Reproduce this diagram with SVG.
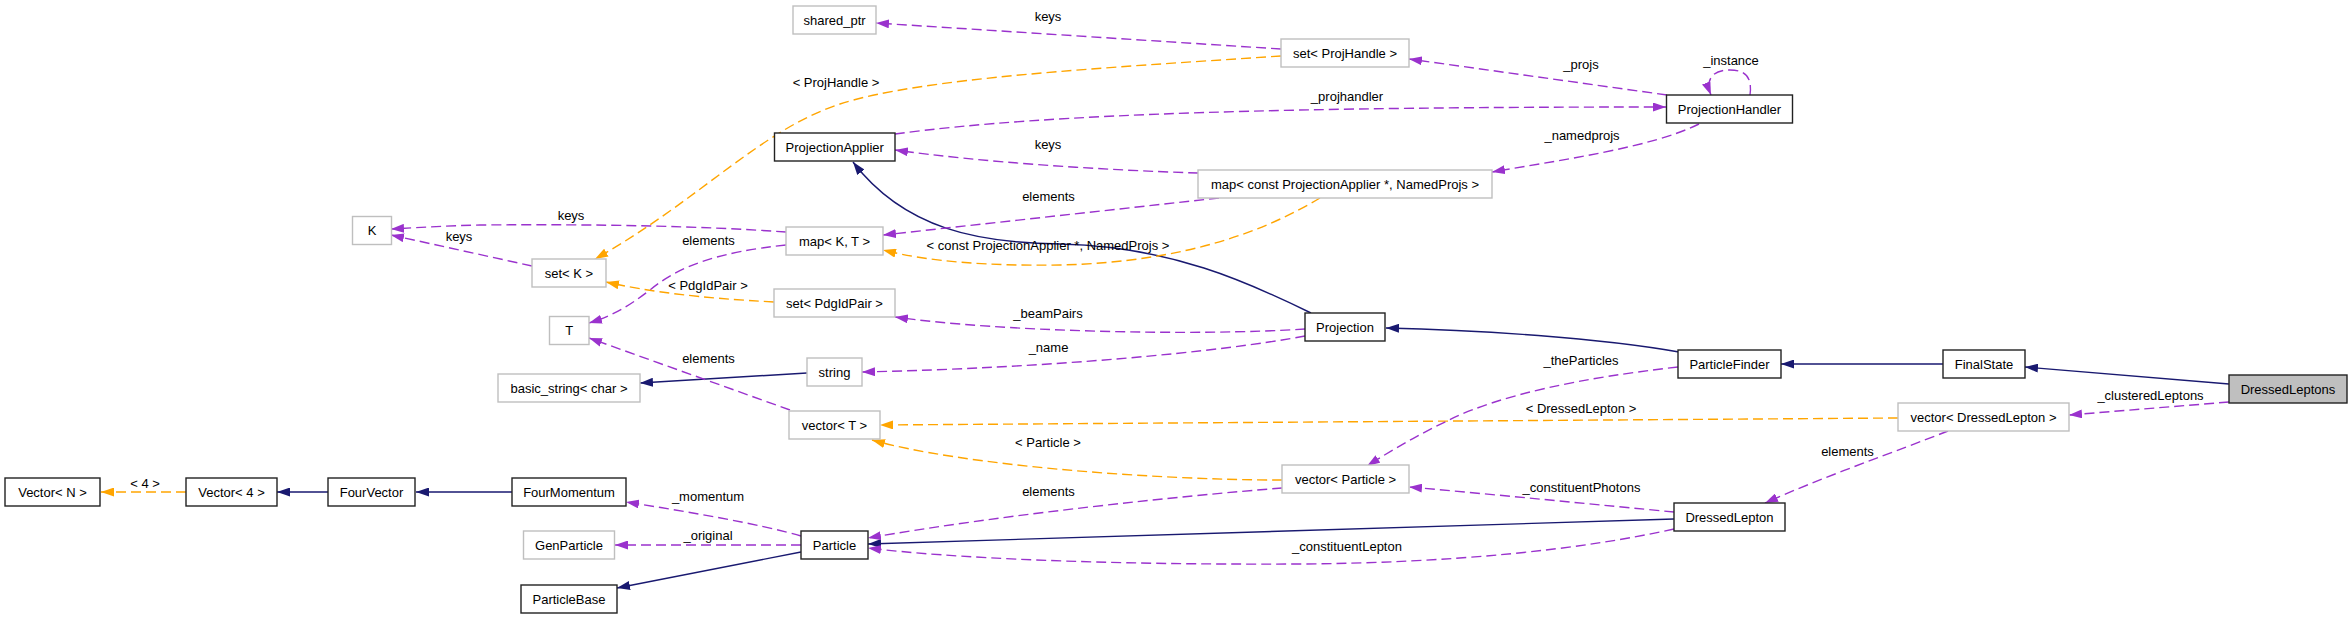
<svg xmlns="http://www.w3.org/2000/svg" width="2352" height="619" viewBox="0 0 2352 619">
<style>
text{font-family:"Liberation Sans",Arial,sans-serif;font-size:13px;fill:#000;text-anchor:middle}
.doc rect{fill:#fff;stroke:#222;stroke-width:1.4}
.ext rect{fill:#fff;stroke:#bfbfbf;stroke-width:1.4}
.cur rect{fill:#bfbfbf;stroke:#222;stroke-width:1.4}
.inh{fill:none;stroke:#191970;stroke-width:1.4;marker-end:url(#aN)}
.use{fill:none;stroke:#9a32cd;stroke-width:1.4;stroke-dasharray:10,5;marker-end:url(#aP)}
.tpl{fill:none;stroke:#ffa500;stroke-width:1.4;stroke-dasharray:10,5;marker-end:url(#aO)}
</style>
<defs>
<marker id="aN" viewBox="0 0 13 9" refX="13" refY="4.5" markerWidth="13" markerHeight="9" markerUnits="userSpaceOnUse" orient="auto"><path d="M0,0 L13,4.5 L0,9 z" fill="#191970"/></marker>
<marker id="aP" viewBox="0 0 13 9" refX="13" refY="4.5" markerWidth="13" markerHeight="9" markerUnits="userSpaceOnUse" orient="auto"><path d="M0,0 L13,4.5 L0,9 z" fill="#9a32cd"/></marker>
<marker id="aO" viewBox="0 0 13 9" refX="13" refY="4.5" markerWidth="13" markerHeight="9" markerUnits="userSpaceOnUse" orient="auto"><path d="M0,0 L13,4.5 L0,9 z" fill="#ffa500"/></marker>
</defs>
<rect width="2352" height="619" fill="#fff"/>
<g id="edges">
<path class="inh" d="M2229,384 L2025,367"/>
<path class="inh" d="M1943,364 L1781,364"/>
<path class="inh" d="M1679,352 C1600,338 1480,330 1386,328"/>
<path class="inh" d="M1311,313 C1250,283 1170,246 1060,244 C980,243 905,230 853,162"/>
<path class="inh" d="M801,552 L617,588"/>
<path class="inh" d="M1674,519 L868,544"/>
<path class="inh" d="M512,492 L416,492"/>
<path class="inh" d="M328,492 L277,492"/>
<path class="tpl" d="M186,492 L101,492"/>
<text x="145" y="487.5">&lt; 4 &gt;</text>
<path class="inh" d="M807,373 L640,383"/>
<path class="use" d="M1281,49 L876,23"/>
<text x="1048" y="21">keys</text>
<path class="tpl" d="M1281,56 C1100,68 920,78 840,104 C760,130 700,200 595,259"/>
<text x="836" y="87">&lt; ProjHandle &gt;</text>
<path class="use" d="M1667,95 L1409,59"/>
<text x="1581" y="68.5">_projs</text>
<path class="use" d="M1750,95 C1752,80 1748,70 1730,70 C1712,70 1705,80 1711,95"/>
<text x="1731" y="65">_instance</text>
<path class="use" d="M895,134 C1050,113 1300,107 1666,107"/>
<text x="1347" y="101">_projhandler</text>
<path class="use" d="M1699,124 C1650,148 1560,160 1492,172"/>
<text x="1582" y="140">_namedprojs</text>
<path class="use" d="M1198,173 C1100,170 980,162 895,150"/>
<text x="1048" y="148.5">keys</text>
<path class="use" d="M1219,198 L883,235"/>
<text x="1048.5" y="200.5">elements</text>
<path class="tpl" d="M1320,198 C1270,228 1190,262 1060,265 C990,266 930,262 883,250"/>
<text x="1048" y="249.5">&lt; const ProjectionApplier *, NamedProjs &gt;</text>
<path class="use" d="M786,232 C700,226 600,224 480,225 C440,226 410,228 391,229"/>
<text x="571" y="219.5">keys</text>
<path class="use" d="M786,245 C720,252 680,265 650,290 C630,305 615,315 589,323"/>
<text x="708.5" y="245">elements</text>
<path class="use" d="M532,266 L391,235"/>
<text x="459" y="241">keys</text>
<path class="tpl" d="M774,302 C700,298 650,292 606,282"/>
<text x="708" y="289.5">&lt; PdgIdPair &gt;</text>
<path class="use" d="M1305,329 C1200,336 1000,332 895,317"/>
<text x="1048" y="318">_beamPairs</text>
<path class="use" d="M1305,336 C1220,352 1050,368 862,372"/>
<text x="1048.5" y="352">_name</text>
<path class="use" d="M790,410 L589,338"/>
<text x="708.5" y="363">elements</text>
<path class="tpl" d="M1898,418 L880,425"/>
<text x="1581" y="413">&lt; DressedLepton &gt;</text>
<path class="tpl" d="M1282,480 C1150,480 960,465 872,440"/>
<text x="1048" y="447">&lt; Particle &gt;</text>
<path class="use" d="M1282,488 C1180,496 1000,515 868,538"/>
<text x="1048.5" y="496">elements</text>
<path class="use" d="M1678,367 C1580,378 1500,395 1449,420 C1420,434 1395,448 1367,466"/>
<text x="1581" y="365">_theParticles</text>
<path class="use" d="M1674,512 C1600,505 1500,495 1409,487"/>
<text x="1581.5" y="492">_constituentPhotons</text>
<path class="use" d="M1674,529 C1580,550 1450,563 1300,564 C1100,565 950,558 868,548"/>
<text x="1347" y="551">_constituentLepton</text>
<path class="use" d="M801,536 C760,524 690,512 626,502"/>
<text x="708" y="501">_momentum</text>
<path class="use" d="M801,545 L615,545"/>
<text x="708" y="540">_original</text>
<path class="use" d="M1948,431 C1900,450 1820,478 1765,503"/>
<text x="1847.5" y="456">elements</text>
<path class="use" d="M2229,402 L2069,415"/>
<text x="2150.5" y="400">_clusteredLeptons</text>
</g>
<g id="DressedLeptons" class="cur"><rect x="2229" y="375" width="118" height="28"/><text x="2288" y="393.5">DressedLeptons</text></g>
<g id="FinalState" class="doc"><rect x="1943" y="350" width="82" height="28"/><text x="1984" y="368.5">FinalState</text></g>
<g id="ParticleFinder" class="doc"><rect x="1678" y="350" width="103" height="28"/><text x="1729.5" y="368.5">ParticleFinder</text></g>
<g id="Projection" class="doc"><rect x="1305" y="313" width="80" height="28"/><text x="1345" y="331.5">Projection</text></g>
<g id="ProjectionApplier" class="doc"><rect x="774.5" y="133" width="120.5" height="28"/><text x="834.75" y="151.5">ProjectionApplier</text></g>
<g id="ProjectionHandler" class="doc"><rect x="1666.5" y="95" width="126" height="28"/><text x="1729.5" y="113.5">ProjectionHandler</text></g>
<g id="setProjHandle" class="ext"><rect x="1281" y="39" width="128" height="28"/><text x="1345" y="57.5">set&lt; ProjHandle &gt;</text></g>
<g id="shared_ptr" class="ext"><rect x="793" y="6" width="83" height="28"/><text x="834.5" y="24.5">shared_ptr</text></g>
<g id="mapConstPA" class="ext"><rect x="1198" y="170" width="294" height="28"/><text x="1345" y="188.5">map&lt; const ProjectionApplier *, NamedProjs &gt;</text></g>
<g id="mapKT" class="ext"><rect x="786" y="227" width="97" height="28"/><text x="834.5" y="245.5">map&lt; K, T &gt;</text></g>
<g id="K" class="ext"><rect x="352.5" y="216.5" width="39" height="28"/><text x="372" y="235">K</text></g>
<g id="setK" class="ext"><rect x="532" y="259" width="74" height="28"/><text x="569" y="277.5">set&lt; K &gt;</text></g>
<g id="T" class="ext"><rect x="549.5" y="316.5" width="39.5" height="28"/><text x="569.25" y="335">T</text></g>
<g id="setPdgIdPair" class="ext"><rect x="774" y="289" width="121" height="28"/><text x="834.5" y="307.5">set&lt; PdgIdPair &gt;</text></g>
<g id="string" class="ext"><rect x="807" y="358" width="55" height="28"/><text x="834.5" y="376.5">string</text></g>
<g id="basic_string" class="ext"><rect x="498" y="374" width="142" height="28"/><text x="569" y="392.5">basic_string&lt; char &gt;</text></g>
<g id="vectorT" class="ext"><rect x="789" y="411" width="91" height="28"/><text x="834.5" y="429.5">vector&lt; T &gt;</text></g>
<g id="vectorDressedLepton" class="ext"><rect x="1898" y="403" width="171" height="28"/><text x="1983.5" y="421.5">vector&lt; DressedLepton &gt;</text></g>
<g id="vectorParticle" class="ext"><rect x="1282" y="465" width="127" height="28"/><text x="1345.5" y="483.5">vector&lt; Particle &gt;</text></g>
<g id="DressedLepton" class="doc"><rect x="1674" y="503" width="111" height="28"/><text x="1729.5" y="521.5">DressedLepton</text></g>
<g id="Particle" class="doc"><rect x="801" y="531" width="67" height="28"/><text x="834.5" y="549.5">Particle</text></g>
<g id="FourMomentum" class="doc"><rect x="512" y="478" width="114" height="28"/><text x="569" y="496.5">FourMomentum</text></g>
<g id="GenParticle" class="ext"><rect x="523.5" y="531" width="91" height="28"/><text x="569" y="549.5">GenParticle</text></g>
<g id="ParticleBase" class="doc"><rect x="521" y="585" width="96" height="28"/><text x="569" y="603.5">ParticleBase</text></g>
<g id="FourVector" class="doc"><rect x="328" y="478" width="87" height="28"/><text x="371.5" y="496.5">FourVector</text></g>
<g id="Vector4" class="doc"><rect x="186" y="478" width="91" height="28"/><text x="231.5" y="496.5">Vector&lt; 4 &gt;</text></g>
<g id="VectorN" class="doc"><rect x="5" y="478" width="95" height="28"/><text x="52.5" y="496.5">Vector&lt; N &gt;</text></g>
</svg>
